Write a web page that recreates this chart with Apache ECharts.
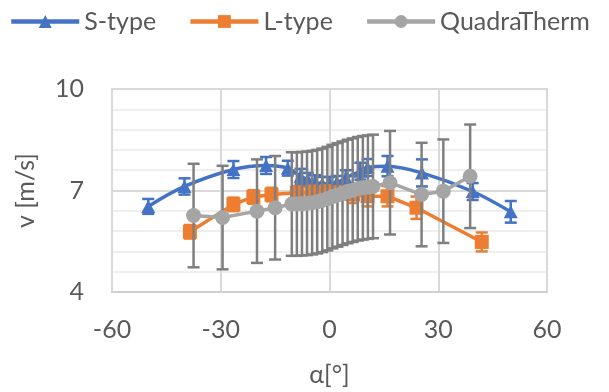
<!DOCTYPE html>
<html>
<head>
<meta charset="utf-8">
<script src="https://cdn.jsdelivr.net/npm/echarts@6/dist/echarts.min.js"></script>
<style>
  html, body { margin: 0; padding: 0; background: #ffffff; }
  #chart { width: 609px; height: 392px; }
</style>
</head>
<body>
<div id="chart"></div>
<script>
// S-type probe: angle [°], velocity [m/s], error half-width
const sAngle = [-50, -40, -26.5, -17.5, -11.5, -8, -6, -4, -2, 0, 2, 4.5, 8.5, 10.5, 16, 25.5, 39.5, 50];
const sVel   = [6.53, 7.12, 7.62, 7.74, 7.66, 7.42, 7.32, 7.25, 7.2, 7.2, 7.23, 7.38, 7.57, 7.68, 7.72, 7.52, 6.97, 6.37];
const sErr   = [0.22, 0.24, 0.25, 0.25, 0.22, 0.22, 0.2, 0.2, 0.2, 0.2, 0.2, 0.22, 0.25, 0.25, 0.3, 0.4, 0.25, 0.32];

// L-type probe
const lAngle = [-38.5, -26.5, -21, -16, -9, -5, -1, 3, 6.5, 10.5, 16, 24, 42];
const lVel   = [5.78, 6.59, 6.81, 6.88, 6.93, 6.94, 6.95, 6.93, 6.88, 6.83, 6.83, 6.49, 5.48];
const lErr   = [0.2, 0.2, 0.2, 0.2, 0.2, 0.2, 0.2, 0.2, 0.25, 0.3, 0.3, 0.33, 0.28];

// QuadraTherm thermal meter
const qAngle = [-37.5, -29.5, -20, -15, -10.4, -9, -7.6, -6.2, -4.8, -3.4, -2, -0.6, 0.8, 2.2, 3.6, 5, 6.4, 7.8, 9.2, 10.6, 12, 16.7, 25.4, 31.4, 38.8];
const qVel   = [6.26, 6.2, 6.39, 6.49, 6.6, 6.6, 6.61, 6.62, 6.64, 6.67, 6.71, 6.76, 6.82, 6.87, 6.92, 6.97, 7.01, 7.05, 7.08, 7.1, 7.12, 7.23, 6.88, 6.98, 7.42];
const qErr   = [1.53, 1.53, 1.53, 1.53, 1.53, 1.53, 1.53, 1.53, 1.53, 1.53, 1.53, 1.53, 1.53, 1.53, 1.53, 1.53, 1.53, 1.53, 1.53, 1.53, 1.53, 1.53, 1.53, 1.53, 1.53];

// Axis ticks
const xTicks = [-60, -30, 0, 30, 60];
const yTicks = [4, 7, 10];

const FONT = 'Lato';
const TEXT = '#595959';
const BLUE = '#4472C4', ORANGE = '#ED7D31', GREY = '#A5A5A5', BAR_GREY = '#7F7F7F';

const pts = (xs, ys) => xs.map((x, i) => [x, ys[i]]);
const bars = (xs, ys, es) => xs.map((x, i) => [x, ys[i] - es[i], ys[i] + es[i]]);

// vertical error bar with end caps, placed through the axis scales
function errorBar(color, capW, width) {
  return function (params, api) {
    const x = api.value(0);
    const lo = api.coord([x, api.value(1)]);
    const hi = api.coord([x, api.value(2)]);
    const h = capW / 2;
    const st = { stroke: color, lineWidth: width };
    return {
      type: 'group',
      children: [
        { type: 'line', shape: { x1: lo[0], y1: lo[1], x2: hi[0], y2: hi[1] }, style: st },
        { type: 'line', shape: { x1: lo[0] - h, y1: lo[1], x2: lo[0] + h, y2: lo[1] }, style: st },
        { type: 'line', shape: { x1: hi[0] - h, y1: hi[1], x2: hi[0] + h, y2: hi[1] }, style: st }
      ]
    };
  };
}

const chart = echarts.init(document.getElementById('chart'), null, { renderer: 'canvas' });

chart.setOption({
  animation: false,
  backgroundColor: '#ffffff',
  legend: {
    data: ['S-type', 'L-type', 'QuadraTherm'],
    left: 4,
    top: 4,
    itemWidth: 68,
    itemHeight: 16,
    itemGap: 32,
    lineStyle: { width: 4.5 },
    textStyle: { fontFamily: FONT, fontSize: 25, color: TEXT }
  },
  grid: {
    left: 112, right: 62, top: 89, bottom: 99,
    show: true, borderColor: '#D0D0D0', borderWidth: 2, backgroundColor: 'transparent'
  },
  xAxis: {
    type: 'value',
    min: xTicks[0], max: xTicks[xTicks.length - 1], interval: 30,
    name: 'α[°]', nameLocation: 'middle', nameGap: 70,
    nameTextStyle: { fontFamily: FONT, fontSize: 25, color: TEXT },
    axisLine: { show: true, lineStyle: { color: '#D0D0D0', width: 2 } },
    axisTick: { show: false },
    axisLabel: { fontFamily: FONT, fontSize: 25, color: TEXT, margin: 25 },
    splitLine: { show: true, lineStyle: { color: '#D9D9D9', width: 2 } }
  },
  yAxis: {
    type: 'value',
    min: yTicks[0], max: yTicks[yTicks.length - 1], interval: 3,
    name: 'v [m/s]', nameLocation: 'middle', nameGap: 74, nameRotate: 90,
    nameTextStyle: { fontFamily: FONT, fontSize: 25, color: TEXT },
    axisLine: { show: false },
    axisTick: { show: false },
    axisLabel: { fontFamily: FONT, fontSize: 25, color: TEXT, margin: 28 },
    splitLine: { show: true, lineStyle: { color: '#D9D9D9', width: 2 } },
    minorTick: { show: false, splitNumber: 5 },
    minorSplitLine: { show: true, lineStyle: { color: '#EFEFEF', width: 2 } }
  },
  series: [
    {
      name: 'S-type err', type: 'custom', z: 2, silent: true,
      renderItem: errorBar(BLUE, 12, 2.5),
      encode: { x: 0, y: [1, 2] },
      data: bars(sAngle, sVel, sErr)
    },
    {
      name: 'S-type', type: 'line', z: 3,
      data: pts(sAngle, sVel),
      smooth: 0.35,
      symbol: 'triangle', symbolSize: [14, 13],
      lineStyle: { color: BLUE, width: 3.5 },
      itemStyle: { color: BLUE }
    },
    {
      name: 'L-type err', type: 'custom', z: 4, silent: true,
      renderItem: errorBar(ORANGE, 12, 2.5),
      encode: { x: 0, y: [1, 2] },
      data: bars(lAngle, lVel, lErr)
    },
    {
      name: 'L-type', type: 'line', z: 5,
      data: pts(lAngle, lVel),
      symbol: 'rect', symbolSize: 14,
      lineStyle: { color: ORANGE, width: 3.5 },
      itemStyle: { color: ORANGE }
    },
    {
      name: 'QuadraTherm err', type: 'custom', z: 6, silent: true,
      renderItem: errorBar(BAR_GREY, 12, 2.5),
      encode: { x: 0, y: [1, 2] },
      data: bars(qAngle, qVel, qErr)
    },
    {
      name: 'QuadraTherm', type: 'line', z: 7,
      data: pts(qAngle, qVel),
      symbol: 'circle', symbolSize: 15,
      lineStyle: { color: GREY, width: 3.5 },
      itemStyle: { color: GREY }
    }
  ]
});
</script>
</body>
</html>
